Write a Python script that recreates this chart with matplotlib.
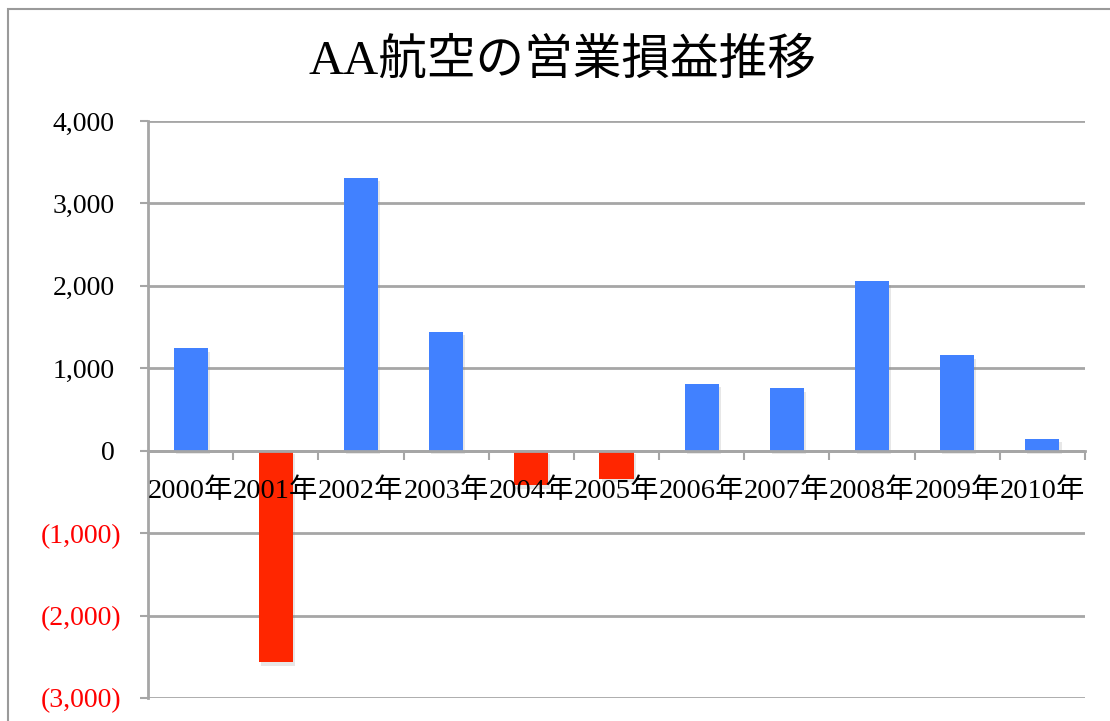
import matplotlib
matplotlib.use("Agg")
import matplotlib.pyplot as plt
import matplotlib.patheffects as pe
import matplotlib.transforms as mtransforms
from matplotlib.patches import Rectangle
import numpy as np

plt.rcParams['font.family'] = ['Liberation Serif', 'Noto Sans CJK JP']

title = "AA航空の営業損益推移"
categories = ["2000年", "2001年", "2002年", "2003年", "2004年", "2005年",
              "2006年", "2007年", "2008年", "2009年", "2010年"]
values = [1245, -2565, 3310, 1440, -420, -340, 815, 755, 2055, 1160, 145]
yticks = [-3000, -2000, -1000, 0, 1000, 2000, 3000, 4000]

BLUE = "#4181FF"
RED = "#FF2600"
GRID = "#A6A6A6"

fig = plt.figure(figsize=(11.10, 7.21), dpi=100)
ax = fig.add_axes([148/1110, 1-698/721, (1085-148)/1110, (698-121)/721])
ax.set_axisbelow(False)

x = np.arange(len(categories))
colors = [BLUE if v >= 0 else RED for v in values]
bars = ax.bar(x, values, width=0.4, color=colors, zorder=2)
for b in bars:
    b.set_path_effects([pe.SimplePatchShadow(offset=(1.5, -2.5), shadow_rgbFace="#888888", alpha=0.2),
                        pe.Normal()])

# gridlines below bars
for t in yticks:
    ax.axhline(t, color=GRID, lw=2, zorder=0.5)

ax.set_xlim(-0.5, len(categories) - 0.5)
ax.set_ylim(min(yticks), max(yticks))

# spines
for s in ["top", "right"]:
    ax.spines[s].set_visible(False)
ax.spines["left"].set_color(GRID)
ax.spines["left"].set_linewidth(2)
ax.spines["bottom"].set_position(("data", 0))
ax.spines["bottom"].set_color(GRID)
ax.spines["bottom"].set_linewidth(2)

# x ticks
ax.set_xticks(x)
ax.set_xticklabels(categories, fontsize=20.5)
ax.set_xticks(np.arange(len(categories) + 1) - 0.5, minor=True)
ax.tick_params(axis="x", which="major", length=0, pad=20)
ax.tick_params(axis="x", which="minor", length=6.5, width=1.5, color=GRID, direction="out")

# y ticks
def fmt(v):
    return f"({abs(v):,})" if v < 0 else f"{v:,}"
ax.set_yticks(yticks)
ax.set_yticklabels([fmt(v) for v in yticks], fontsize=20)
ax.tick_params(axis="y", length=6, width=1.5, color=GRID, direction="out", pad=13)
shift = mtransforms.ScaledTranslation(-7/100, 0, fig.dpi_scale_trans)
for lbl, v in zip(ax.get_yticklabels(), yticks):
    if v < 0:
        lbl.set_color("#FF0000")
    else:
        lbl.set_transform(lbl.get_transform() + shift)

# title
fig.text(562/1110, 1-61/721, title, fontsize=35, ha="center", va="center")

# outer frame (top and left edges visible)
frame = Rectangle((8/1110, -0.05), 1.1, 1-9/721 + 0.05, transform=fig.transFigure,
                  fill=False, edgecolor="#9A9A9A", lw=1.5, clip_on=False)
fig.patches.append(frame)

fig.savefig("out.png", dpi=100)
